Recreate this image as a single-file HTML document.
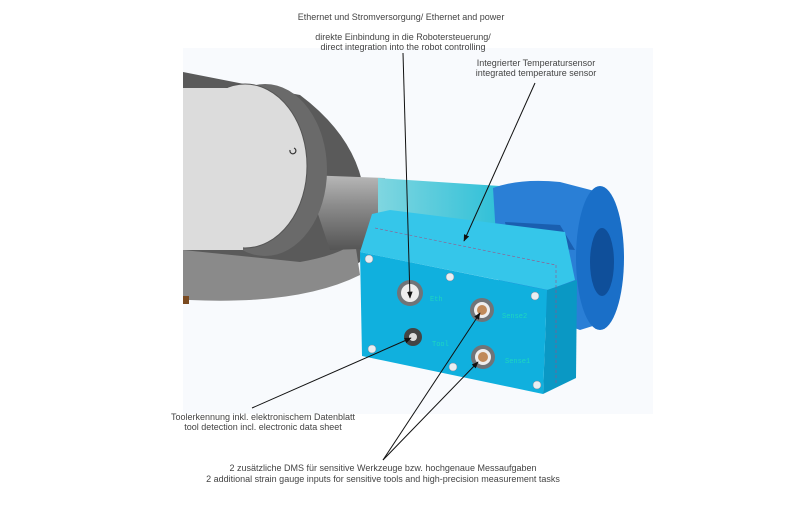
<!DOCTYPE html>
<html><head><style>
body{margin:0;width:800px;height:500px;background:#fff;overflow:hidden;font-family:"Liberation Sans",sans-serif}
</style></head><body>
<svg width="800" height="500" viewBox="0 0 800 500" xmlns="http://www.w3.org/2000/svg">
<defs>
<marker id="a" viewBox="0 0 10 10" refX="9" refY="5" markerWidth="7" markerHeight="7" orient="auto"><path d="M0,1 L10,5 L0,9 z" fill="#111"/></marker>
<linearGradient id="tube" x1="0" y1="0" x2="0" y2="1"><stop offset="0" stop-color="#b8b8b8"/><stop offset=".4" stop-color="#8c8c8c"/><stop offset="1" stop-color="#555"/></linearGradient>
<linearGradient id="cy" x1="0" y1="0" x2="1" y2="0"><stop offset="0" stop-color="#7fd6e0"/><stop offset="1" stop-color="#2fc0d8"/></linearGradient>
<clipPath id="pc"><rect x="183" y="48" width="470" height="366"/></clipPath>
</defs>
<rect x="183" y="48" width="470" height="366" fill="#f8fafd"/>
<g clip-path="url(#pc)">
<!-- gray robot -->
<path d="M183,72 L300,95 Q360,140 365,200 L360,262 Q300,300 240,300 L183,300 Z" fill="#5a5a5a"/>
<path d="M183,250 L300,262 Q340,255 355,242 L360,275 Q300,305 190,300 L183,300 Z" fill="#8a8a8a"/>
<rect x="183" y="296" width="6" height="8" fill="#7a4a20"/>
<path d="M305,175 L385,178 L388,248 L330,250 Z" fill="url(#tube)"/>
<ellipse cx="265" cy="170" rx="62" ry="86" fill="#6a6a6a"/>
<ellipse cx="245" cy="166" rx="62" ry="82" fill="#dcdcdc" stroke="#555" stroke-width="1"/>
<rect x="183" y="88" width="60" height="162" fill="#dcdcdc"/>
<path d="M290,150 a3,3 0 1,0 4,-2" stroke="#333" fill="none" stroke-width="1.2"/>
<!-- cyan tube -->
<path d="M378,178 L500,186 L500,232 L378,245 Z" fill="url(#cy)"/>
<!-- blue flange -->
<path d="M493,188 Q520,178 560,182 L610,195 L612,320 L580,330 L500,300 Z" fill="#2a7fd6"/>
<ellipse cx="600" cy="258" rx="24" ry="72" fill="#1a6fc8"/>
<ellipse cx="602" cy="262" rx="12" ry="34" fill="#0f4f9a"/>
<path d="M505,222 L560,225 L575,250 L510,245 Z" fill="#1a5fb0"/>
<!-- box -->
<path d="M372,214 L390,210 L565,232 L575,280 L548,290 L360,252 Z" fill="#35c6ea"/>
<path d="M547,290 L577,280 L576,378 L543,394 Z" fill="#0a98c4"/>
<path d="M360,252 L547,290 L543,394 L362,356 Z" fill="#10b0de"/>
<line x1="375" y1="228" x2="556" y2="265" stroke="#a05080" stroke-width=".6" stroke-dasharray="3,2"/>
<line x1="556" y1="265" x2="556" y2="385" stroke="#a05080" stroke-width=".6" stroke-dasharray="3,2"/>
<g fill="#e8eef2" stroke="#889" stroke-width=".5">
<circle cx="369" cy="259" r="4"/><circle cx="450" cy="277" r="4"/><circle cx="535" cy="296" r="4"/>
<circle cx="372" cy="349" r="4"/><circle cx="453" cy="367" r="4"/><circle cx="537" cy="385" r="4"/></g>
<g><circle cx="410" cy="293" r="13" fill="#707478"/><circle cx="410" cy="293" r="9" fill="#eee"/>
<circle cx="482" cy="310" r="12" fill="#707478"/><circle cx="482" cy="310" r="8" fill="#eee"/><circle cx="482" cy="310" r="5" fill="#c08a5a"/>
<circle cx="483" cy="357" r="12" fill="#707478"/><circle cx="483" cy="357" r="8" fill="#eee"/><circle cx="483" cy="357" r="5" fill="#c08a5a"/>
<circle cx="413" cy="337" r="9" fill="#444"/><circle cx="413" cy="337" r="4" fill="#ddd"/></g>
<g font-size="7" fill="#1ed6c0" font-family="Liberation Mono,monospace">
<text x="430" y="301">Eth</text><text x="502" y="318">Sense2</text><text x="432" y="346">Tool</text><text x="505" y="363">Sense1</text></g>
</g>
<g stroke="#111" stroke-width="1" fill="none">
<line x1="403" y1="53" x2="410" y2="298" marker-end="url(#a)"/>
<line x1="535" y1="83" x2="464" y2="241" marker-end="url(#a)"/>
<line x1="252" y1="408" x2="411" y2="338" marker-end="url(#a)"/>
<line x1="383" y1="460" x2="480" y2="313" marker-end="url(#a)"/>
<line x1="383" y1="460" x2="478" y2="362" marker-end="url(#a)"/>
</g>
<g font-size="9" fill="#444" text-anchor="middle">
<text x="401" y="20">Ethernet und Stromversorgung/ Ethernet and power</text>
<text x="403" y="40">direkte Einbindung in die Robotersteuerung/</text>
<text x="403" y="50">direct integration into the robot controlling</text>
<text x="536" y="66">Integrierter Temperatursensor</text>
<text x="536" y="76">integrated temperature sensor</text>
<text x="263" y="420">Toolerkennung inkl. elektronischem Datenblatt</text>
<text x="263" y="430">tool detection incl. electronic data sheet</text>
<text x="383" y="471">2 zusätzliche DMS für sensitive Werkzeuge bzw. hochgenaue Messaufgaben</text>
<text x="383" y="482">2 additional strain gauge inputs for sensitive tools and high-precision measurement tasks</text>
</g>
</svg>
</body></html>
